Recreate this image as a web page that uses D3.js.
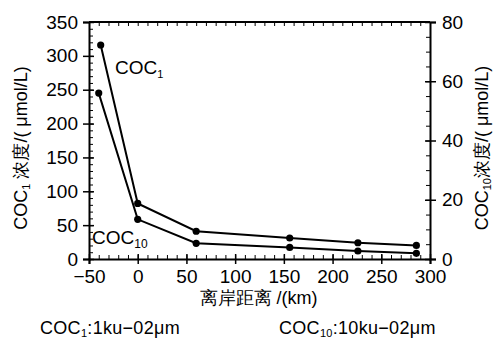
<!DOCTYPE html>
<html>
<head>
<meta charset="utf-8">
<script src="https://cdn.jsdelivr.net/npm/d3@7"></script>
<style>
  body { margin: 0; background: #fff; }
  svg text { font-family: "Liberation Sans", Arial, sans-serif; fill: #000; }
</style>
</head>
<body>
<div class="chart"></div>
<script>
// distance offshore (km) and concentrations
const coc1Dist = [-38, 0, 60, 156, 226, 286];
const coc1Vals = [316, 82, 41, 31, 24, 20];          // left axis
const coc10Dist = [-40, 0, 60, 156, 226, 286];
const coc10Vals = [56, 13.4, 5.3, 3.9, 2.7, 1.9];    // right axis

const xTicks = [-50, 0, 50, 100, 150, 200, 250, 300];
const yLeftTicks = [0, 50, 100, 150, 200, 250, 300, 350];
const yRightTicks = [0, 20, 40, 60, 80];

const margin = { top: 22, right: 63, bottom: 79, left: 89 };
const W = 493, H = 338;
const width = W - margin.left - margin.right;
const height = H - margin.top - margin.bottom;

const svg = d3.select(".chart").append("svg")
    .attr("width", W).attr("height", H);
const g = svg.append("g")
    .attr("transform", "translate(" + margin.left + "," + margin.top + ")");

const x = d3.scaleLinear().domain([-50, 300]).range([0, width]);
const yL = d3.scaleLinear().domain([0, 350]).range([height, 0]);
const yR = d3.scaleLinear().domain([0, 80]).range([height, 0]);

// minor ticks, all pointing inward
function minor(axis, scale, vals, len) {
    g.append("g").attr("class", "minor")
        .attr("transform", axis.tr)
        .call(axis.fn(scale).tickValues(vals).tickSize(len).tickFormat(""))
        .call(s => s.select(".domain").remove())
        .selectAll("line").attr("stroke", "#000").attr("stroke-width", 1);
}
const xMinor = d3.range(-50, 301, 10);
minor({ tr: "translate(0," + height + ")", fn: d3.axisTop }, x, xMinor, 4);
minor({ tr: "translate(0,0)", fn: d3.axisBottom }, x, xMinor, 4);
minor({ tr: "translate(0,0)", fn: d3.axisRight }, yL, d3.range(0, 351, 10), 4);
minor({ tr: "translate(" + width + ",0)", fn: d3.axisLeft }, yR, d3.range(0, 81, 5), 4);

// major axes
const xAxis = g.append("g").attr("transform", "translate(0," + height + ")")
    .call(d3.axisBottom(x).tickValues(xTicks).tickSize(5).tickPadding(6)
        .tickFormat(d => d < 0 ? "\u2212" + Math.abs(d) : d));
const yAxisL = g.append("g")
    .call(d3.axisLeft(yL).tickValues(yLeftTicks).tickSize(6).tickPadding(5));
const yAxisR = g.append("g").attr("transform", "translate(" + width + ",0)")
    .call(d3.axisRight(yR).tickValues(yRightTicks).tickSize(6).tickPadding(6));
g.append("line").attr("x1", 0).attr("x2", width).attr("y1", 0).attr("y2", 0)
    .attr("stroke", "#000").attr("stroke-width", 2);

[xAxis, yAxisL, yAxisR].forEach(a => {
    a.select(".domain").attr("stroke", "#000").attr("stroke-width", 2);
    a.selectAll(".tick line").attr("stroke", "#000").attr("stroke-width", 1.5);
    a.selectAll("text").attr("font-size", 19).attr("fill", "#000")
        .attr("font-family", "Liberation Sans, Arial, sans-serif");
});
// major ticks cross the axis line
xAxis.selectAll(".tick line").attr("y1", -5);
yAxisL.selectAll(".tick line").attr("x2", -6).attr("x1", 5);
yAxisR.selectAll(".tick line").attr("x1", -5);

// series
const s1 = coc1Dist.map((d, i) => [x(d), yL(coc1Vals[i])]);
const s10 = coc10Dist.map((d, i) => [x(d), yR(coc10Vals[i])]);
[s1, s10].forEach(pts => {
    g.append("path").attr("d", d3.line()(pts))
        .attr("fill", "none").attr("stroke", "#000").attr("stroke-width", 2);
    g.selectAll(null).data(pts).enter().append("circle")
        .attr("cx", d => d[0]).attr("cy", d => d[1]).attr("r", 3.6).attr("fill", "#000");
});

// series labels
const lab1 = g.append("text").attr("x", 26).attr("y", 52).attr("font-size", 19).text("COC");
lab1.append("tspan").attr("font-size", 11).attr("dy", 4).text("1");
const lab10 = g.append("text").attr("x", 3).attr("y", 222).attr("font-size", 19).text("COC");
lab10.append("tspan").attr("font-size", 12).attr("dy", 4).text("10");

// axis titles
const tL = svg.append("text")
    .attr("transform", "translate(27,148) rotate(-90)")
    .attr("text-anchor", "middle").attr("font-size", 18);
tL.append("tspan").text("COC");
tL.append("tspan").attr("font-size", 11).attr("dy", 3).text("1");
tL.append("tspan").attr("dy", -3).text(" 浓度/( \u03bcmol/L)");

const tR = svg.append("text")
    .attr("transform", "translate(488,148) rotate(-90)")
    .attr("text-anchor", "middle").attr("font-size", 18);
tR.append("tspan").text("COC");
tR.append("tspan").attr("font-size", 11).attr("dy", 3).text("10");
tR.append("tspan").attr("dy", -3).text("浓度/( \u03bcmol/L)");

svg.append("text").attr("x", margin.left + width / 2 - 1).attr("y", 304)
    .attr("text-anchor", "middle").attr("font-size", 18).text("离岸距离 /(km)");

// footnotes
const n1 = svg.append("text").attr("x", 40).attr("y", 334).attr("font-size", 18)
    .attr("letter-spacing", 0.3);
n1.append("tspan").text("COC");
n1.append("tspan").attr("font-size", 11).attr("dy", 3).text("1");
n1.append("tspan").attr("dy", -3).text(":1ku\u221202\u03bcm");
const n10 = svg.append("text").attr("x", 279).attr("y", 334).attr("font-size", 18)
    .attr("letter-spacing", 0.3);
n10.append("tspan").text("COC");
n10.append("tspan").attr("font-size", 11).attr("dy", 3).text("10");
n10.append("tspan").attr("dy", -3).text(":10ku\u221202\u03bcm");
</script>
</body>
</html>
